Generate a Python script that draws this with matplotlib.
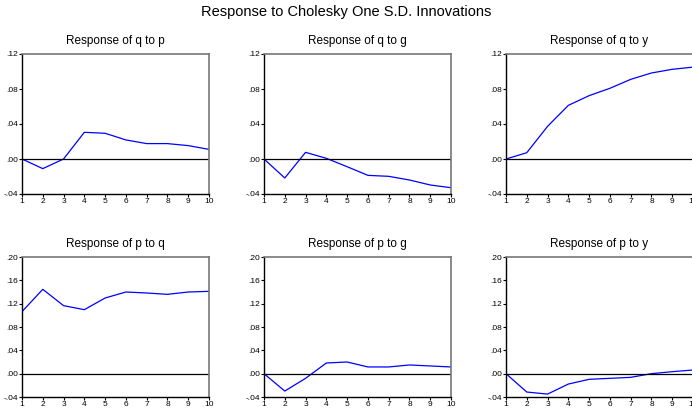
import matplotlib
matplotlib.use("Agg")
import matplotlib.pyplot as plt
from matplotlib.ticker import FuncFormatter

plt.rcParams['font.family'] = ['Liberation Sans', 'DejaVu Sans']

periods = list(range(1, 11))

titles = ["Response of q to p", "Response of q to g", "Response of q to y",
          "Response of p to q", "Response of p to g", "Response of p to y"]

q_to_p = [0.0, -0.011, 0.0, 0.0305, 0.0294, 0.0218, 0.0176, 0.0176, 0.0153, 0.011]
q_to_g = [0.0, -0.0217, 0.0076, 0.0008, -0.0088, -0.0187, -0.0198, -0.024, -0.0297, -0.0328]
q_to_y = [0.0, 0.0072, 0.0373, 0.0613, 0.0724, 0.0808, 0.091, 0.0983, 0.1025, 0.105]
p_to_q = [0.1063, 0.1446, 0.1166, 0.1097, 0.1297, 0.14, 0.1383, 0.136, 0.14, 0.1411]
p_to_g = [0.0, -0.0298, -0.008, 0.0183, 0.02, 0.0115, 0.0115, 0.0149, 0.0132, 0.0115]
p_to_y = [0.0, -0.0315, -0.035, -0.0178, -0.0097, -0.008, -0.0063, 0.0, 0.0034, 0.0063]

series = [q_to_p, q_to_g, q_to_y, p_to_q, p_to_g, p_to_y]
top_ticks = [-0.04, 0.0, 0.04, 0.08, 0.12]
bottom_ticks = [-0.04, 0.0, 0.04, 0.08, 0.12, 0.16, 0.20]


def fmt(v, pos):
    s = "%.2f" % v
    if s.startswith("-0"):
        return "-" + s[2:]
    if s.startswith("0"):
        return s[1:]
    return s


W, H = 692, 412
fig = plt.figure(figsize=(W / 100, H / 100), dpi=100)
fig.text(0.5, 1 - 12 / H, "Response to Cholesky One S.D. Innovations",
         ha='center', va='center', fontsize=10.5)

lefts = [22, 264, 506]
tops = [54, 257]
aw, ah = 187, 140

for i, (title, ys) in enumerate(zip(titles, series)):
    row, col = divmod(i, 3)
    l = lefts[col]
    t = tops[row]
    ax = fig.add_axes([l / W, (H - t - ah) / H, aw / W, ah / H])
    ax.plot(periods, ys, color='#0000ff', lw=0.9)
    ax.axhline(0, color='black', lw=0.9)
    ticks = top_ticks if row == 0 else bottom_ticks
    ax.set_ylim(ticks[0], ticks[-1])
    ax.set_yticks(ticks)
    ax.yaxis.set_major_formatter(FuncFormatter(fmt))
    ax.set_xlim(1, 10)
    ax.set_xticks(periods)
    ax.tick_params(labelsize=6, length=2, width=0.8, pad=1)
    for side in ['left', 'bottom']:
        ax.spines[side].set_color('black')
        ax.spines[side].set_linewidth(1.0)
    for side in ['top', 'right']:
        ax.spines[side].set_color('#777777')
        ax.spines[side].set_linewidth(1.2)
    ax.set_title(title, fontsize=8.5, pad=7)

fig.savefig("out.png", dpi=100)
